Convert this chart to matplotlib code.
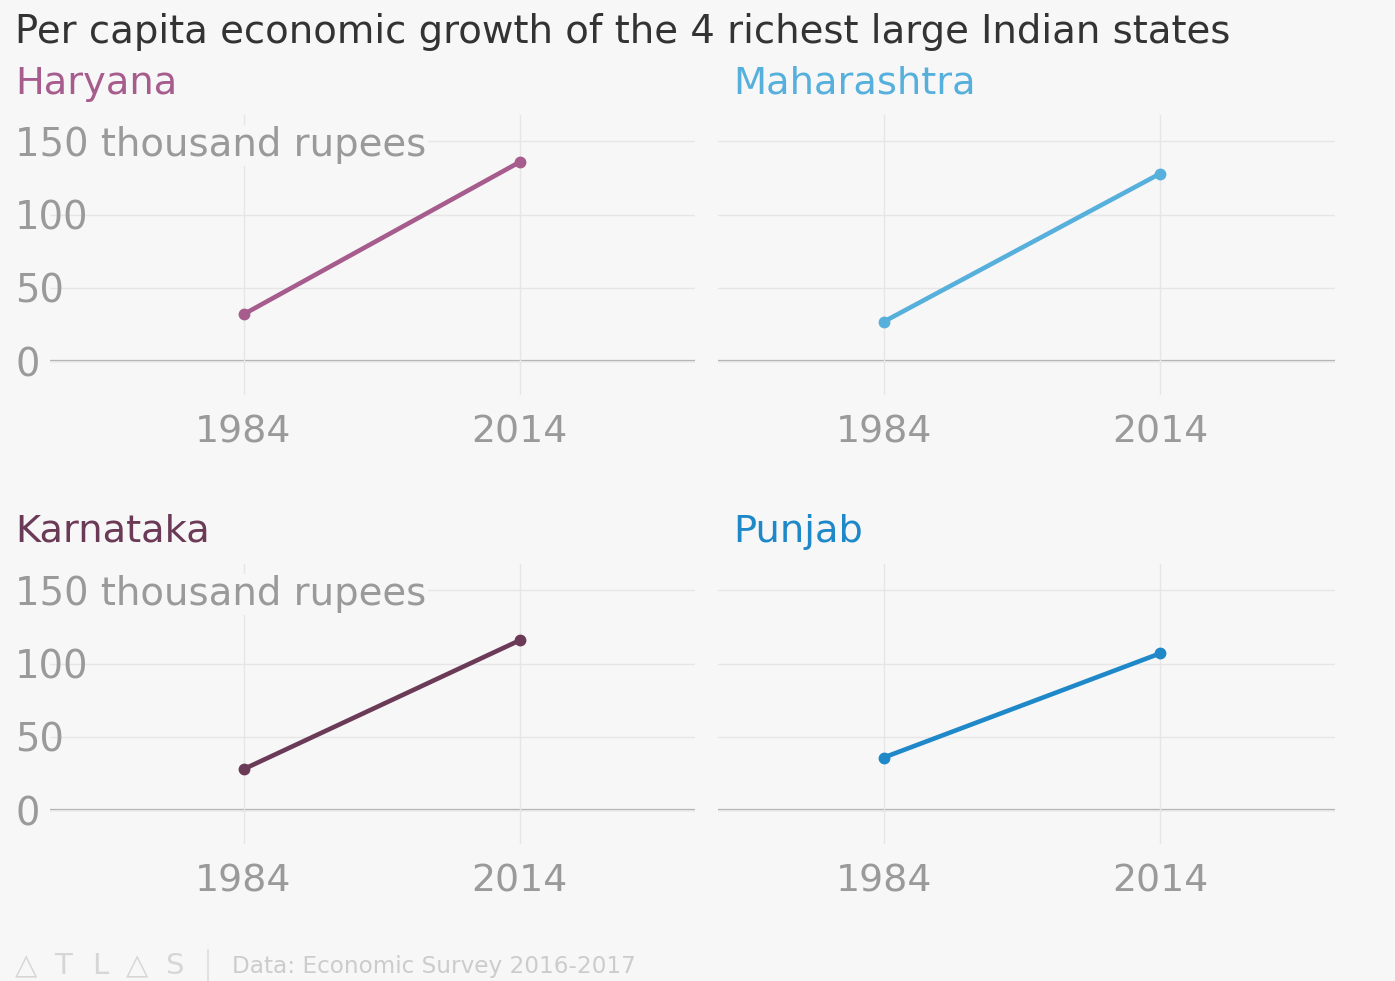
import matplotlib
matplotlib.use("Agg")
import matplotlib.pyplot as plt
from matplotlib.lines import Line2D

plt.rcParams['font.family'] = ['DejaVu Sans', 'Noto Sans CJK SC']

# Per capita income, thousand rupees
years = [1984, 2014]
states = ["Haryana", "Maharashtra", "Karnataka", "Punjab"]
haryana = [32, 136]
maharashtra = [27, 128]
karnataka = [28, 116]
punjab = [36, 107]
y_ticks = [0, 50, 100, 150]
y_tick_labels = ["0", "50", "100", "150 thousand rupees"]
x_tick_labels = ["1984", "2014"]

series = [haryana, maharashtra, karnataka, punjab]
colors = ["#a65c8c", "#57b0dc", "#6b3a57", "#1f88c8"]

BG = "#f7f7f7"
W, H = 1395, 981
DPI = 100
fig = plt.figure(figsize=(W / DPI, H / DPI), dpi=DPI, facecolor=BG)


def rect(x0, y0, x1, y1):
    """Pixel box (top-left origin) -> figure fraction rect."""
    return [x0 / W, 1 - y1 / H, (x1 - x0) / W, (y1 - y0) / H]


panels = [
    # (pixel box, xlim, show y labels, title pos)
    ((50, 115, 695, 395), (1963, 2033), True, (15, 84)),
    ((718, 115, 1335, 395), (1966, 2033), False, (733, 84)),
    ((50, 564, 695, 844), (1963, 2033), True, (15, 532)),
    ((718, 564, 1335, 844), (1966, 2033), False, (733, 532)),
]

px_pt = 72 / DPI

for (box, xlim, ylab, tpos), name, vals, col in zip(panels, states, series, colors):
    ax = fig.add_axes(rect(*box))
    ax.set_facecolor("none")
    ax.set_xlim(*xlim)
    ax.set_ylim(-23, 168)
    for s in ax.spines.values():
        s.set_visible(False)

    ax.set_xticks(years)
    ax.set_xticklabels(x_tick_labels)
    ax.set_yticks(y_ticks)
    ax.tick_params(axis="both", length=0, colors="#9a9a9a")
    ax.tick_params(axis="x", pad=14, labelsize=27.3)
    ax.tick_params(axis="y", labelsize=27.8)
    ax.grid(True, color="#e6e6e6", linewidth=1.0, zorder=0)
    if ylab:
        ax.set_yticklabels(y_tick_labels)
        ax.tick_params(axis="y", pad=(box[0] - 15) * px_pt)
        for lab in ax.get_yticklabels():
            lab.set_horizontalalignment("left")
        top = ax.get_yticklabels()[-1]
        top.set_bbox(dict(facecolor=BG, edgecolor="none", pad=1))
    else:
        ax.set_yticklabels([])
    ax.axhline(0, color="#aaaaaa", linewidth=1.6, zorder=1)

    ax.plot(years, vals, color=col, linewidth=3.3, marker="o",
            markersize=7.5, solid_capstyle="round", zorder=3)

    fig.text(tpos[0] / W, 1 - tpos[1] / H, name, color=col, fontsize=27.6,
             ha="left", va="center")

fig.text(15 / W, 1 - 32 / H,
         "Per capita economic growth of the 4 richest large Indian states",
         color="#333333", fontsize=27.8, ha="left", va="center")

# footer
logo_letters = ["△", "T", "L", "△", "S"]
for i, ch in enumerate(logo_letters):
    fig.text((26 + i * 37) / W, 1 - 966 / H, ch, color="#d6d6d6", fontsize=21,
             ha="center", va="center")
fig.add_artist(Line2D([208 / W, 208 / W], [1 - 950 / H, 1 - 981 / H],
                      color="#dddddd", linewidth=1.2))
fig.text(232 / W, 1 - 966 / H, "Data: Economic Survey 2016-2017",
         color="#cccccc", fontsize=16.7, ha="left", va="center")

fig.savefig("out.png", dpi=DPI, facecolor=BG)
